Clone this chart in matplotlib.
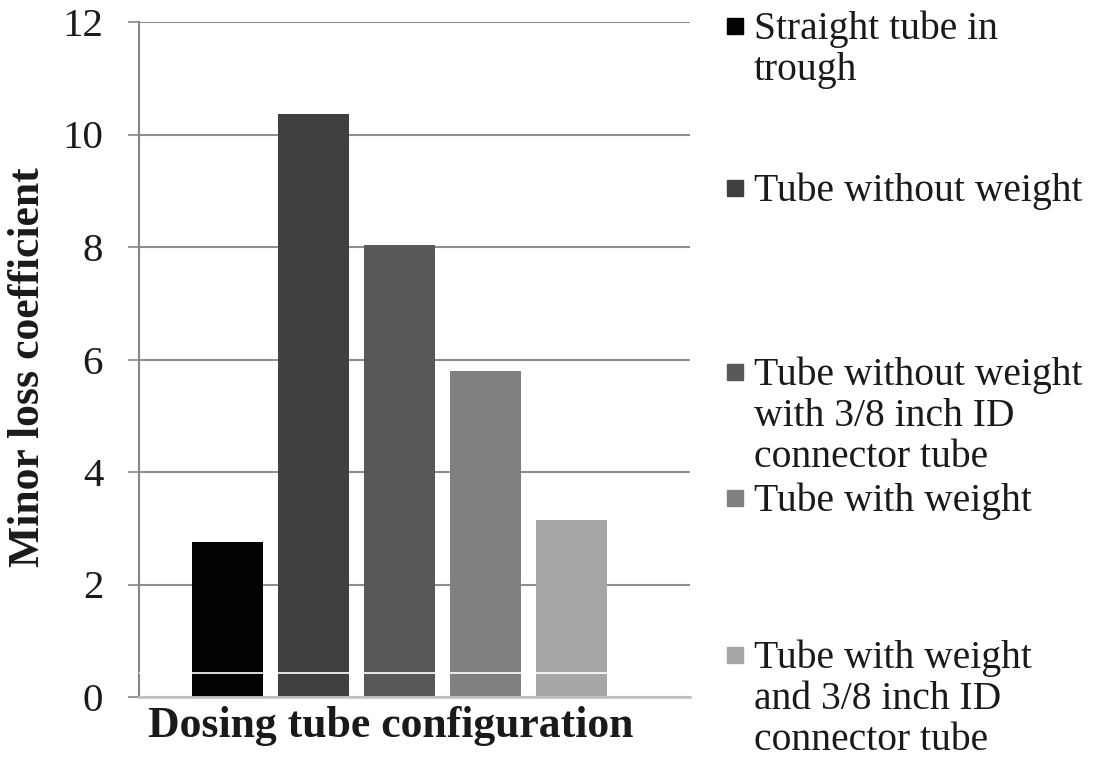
import numpy as np
import matplotlib
matplotlib.use('Agg')
import matplotlib.pyplot as plt

# Chart data
configs = [
    "Straight tube in\ntrough",
    "Tube without weight",
    "Tube without weight\nwith 3/8 inch ID\nconnector tube",
    "Tube with weight",
    "Tube with weight\nand 3/8 inch ID\nconnector tube",
]
minorLoss = [2.75, 10.36, 8.03, 5.79, 3.14]
yticks = [0, 2, 4, 6, 8, 10, 12]

colors = ["#020403", "#404040", "#585858", "#808080", "#a5a6a5"]

plt.rcParams["font.family"] = ["Liberation Serif", "DejaVu Serif"]

W, H = 1093, 760
fig = plt.figure(figsize=(W/100., H/100.), dpi=100)
ax0 = fig.add_axes([139.3/W, 1-697./H, (690-139.3)/W, (697-22.)/H])

x = np.arange(len(minorLoss))
ax0.bar(x, minorLoss, width=0.826, color=colors, zorder=2)

# Limits and labels
ax0.set_xlim(-1.02, 5.38)
ax0.set_ylim(0, 12)
ax0.set_yticks(yticks)
ax0.set_xticks([])
ax0.yaxis.grid(True, color="#8e8e8e", linewidth=1.5)
ax0.set_axisbelow(True)
for s in ["top", "right"]:
    ax0.spines[s].set_visible(False)
ax0.spines["left"].set_color("#868686")
ax0.spines["left"].set_linewidth(1.5)
ax0.spines["bottom"].set_color("#c4c4c4")
ax0.spines["bottom"].set_linewidth(2)
ax0.tick_params(axis="y", direction="out", length=8, width=1.2, color="#868686",
                labelsize=29.5, pad=18, labelcolor="#1a1a1a")

# thin white streak across the bars near the bottom (as in the original image)
ax0.axhline(0.42, color="white", linewidth=1.2, zorder=3)

fig.text(390.5/W, 1-737./H, "Dosing tube configuration", fontsize=31.5,
         fontweight="bold", ha="center", va="baseline", color="#1a1a1a")
fig.text(28.5/W, 1-367.5/H, "Minor loss coefficient", fontsize=31.5,
         fontweight="bold", rotation=90, ha="center", va="center", color="#1a1a1a")

# Legend drawn by hand to keep the original spacing
firstBase = [39, 201, 385, 511, 668]
lineGap = 41
key = 16
for lab, col, yb in zip(configs, colors, firstBase):
    yc = yb - 13
    fig.patches.append(plt.Rectangle((727/W, 1-(yc+key/2.)/H), key/W, key/H,
                                     transform=fig.transFigure, color=col))
    for i, line in enumerate(lab.split("\n")):
        fig.text(754/W, 1-(yb+i*lineGap)/H, line, fontsize=28.5,
                 ha="left", va="baseline", color="#1a1a1a")

plt.savefig("out.png", dpi=100)
plt.close()
